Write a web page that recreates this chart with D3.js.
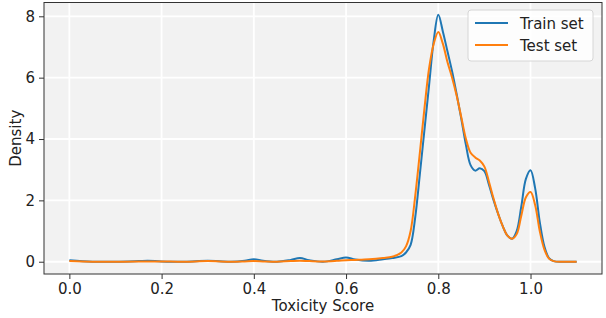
<!doctype html>
<html>
<head>
<meta charset="UTF-8">
<title>Toxicity density</title>
<style>
  body { margin: 0; background: #fff; }
  #container { font-size: 0; }
  text { font-family: "DejaVu Sans", sans-serif; fill: #222; }
</style>
</head>
<body>
<div id="container"></div>
<script src="https://cdn.jsdelivr.net/npm/d3@7"></script>
<script>
  var w = 606, h = 318;
  var margin = {top: 2.5, right: 4, bottom: 44, left: 44};

  // toxicity score sample points
  var scores = [0, 0.05, 0.1, 0.15, 0.17, 0.2, 0.25, 0.3, 0.35, 0.38, 0.4, 0.42, 0.45, 0.48, 0.5,
    0.52, 0.55, 0.58, 0.6, 0.62, 0.65, 0.68, 0.7, 0.72, 0.73, 0.74, 0.75, 0.76, 0.77, 0.78, 0.79,
    0.8, 0.81, 0.82, 0.83, 0.84, 0.85, 0.86, 0.87, 0.88, 0.89, 0.9, 0.91, 0.92, 0.93, 0.94, 0.95,
    0.96, 0.97, 0.98, 0.99, 1.0, 1.01, 1.02, 1.03, 1.04, 1.05, 1.07, 1.1];
  var trainDensity = [0.05, 0.0, 0.0, 0.02, 0.03, 0.01, 0.0, 0.03, 0.0, 0.03, 0.08, 0.03, 0.0, 0.06, 0.12,
    0.05, 0.0, 0.08, 0.14, 0.07, 0.03, 0.08, 0.12, 0.18, 0.3, 0.55, 1.45, 2.85, 4.3, 5.75, 7.2,
    8.05, 7.5, 6.85, 6.2, 5.45, 4.65, 3.8, 3.15, 2.97, 3.05, 2.95, 2.5, 2.0, 1.55, 1.15, 0.85,
    0.75, 1.0, 1.8, 2.7, 2.98, 2.4, 1.3, 0.5, 0.12, 0.02, 0.0, 0.0];
  var testDensity = [0.02, 0.0, 0.0, 0.01, 0.01, 0.01, 0.0, 0.02, 0.0, 0.01, 0.02, 0.01, 0.0, 0.02, 0.03,
    0.02, 0.01, 0.03, 0.05, 0.06, 0.08, 0.12, 0.16, 0.3, 0.5, 1.0, 2.15, 3.55, 5.0, 6.3, 7.1,
    7.49, 7.1, 6.5, 6.0, 5.4, 4.7, 4.0, 3.55, 3.4, 3.3, 3.1, 2.6, 2.05, 1.55, 1.15, 0.85,
    0.75, 0.9, 1.5, 2.1, 2.27, 1.85, 1.0, 0.4, 0.1, 0.02, 0.0, 0.0];
  var seriesNames = ["Train set", "Test set"];
  var colors = ["#1f77b4", "#ff7f0e"];
  var xTicks = [0.0, 0.2, 0.4, 0.6, 0.8, 1.0];
  var yTicks = [0, 2, 4, 6, 8];

  var xScale = d3.scaleLinear().domain([-0.055, 1.155]).range([margin.left, w - margin.right]);
  var yScale = d3.scaleLinear().domain([-0.4, 8.45]).range([h - margin.bottom, margin.top]);

  var svg = d3.select("#container").append("svg").attr("width", w).attr("height", h);

  svg.append("rect")
    .attr("x", margin.left).attr("y", margin.top)
    .attr("width", w - margin.right - margin.left)
    .attr("height", h - margin.bottom - margin.top)
    .attr("fill", "#f2f2f2");

  // grid
  svg.selectAll(".gx").data(xTicks).enter().append("line")
    .attr("x1", function (d) { return xScale(d); }).attr("x2", function (d) { return xScale(d); })
    .attr("y1", margin.top).attr("y2", h - margin.bottom)
    .attr("stroke", "#fff").attr("stroke-width", 1.8);
  svg.selectAll(".gy").data(yTicks).enter().append("line")
    .attr("y1", function (d) { return yScale(d); }).attr("y2", function (d) { return yScale(d); })
    .attr("x1", margin.left).attr("x2", w - margin.right)
    .attr("stroke", "#fff").attr("stroke-width", 1.8);

  var line = d3.line().curve(d3.curveCatmullRom.alpha(0.5));
  [trainDensity, testDensity].forEach(function (vals, i) {
    svg.append("path")
      .attr("d", line(scores.map(function (s, j) { return [xScale(s), yScale(vals[j])]; })))
      .attr("fill", "none").attr("stroke", colors[i]).attr("stroke-width", 2);
  });

  // frame
  svg.append("rect")
    .attr("x", margin.left).attr("y", margin.top)
    .attr("width", w - margin.right - margin.left)
    .attr("height", h - margin.bottom - margin.top)
    .attr("fill", "none").attr("stroke", "#333").attr("stroke-width", 1);

  var xAxis = svg.append("g").attr("transform", "translate(0," + (h - margin.bottom) + ")")
    .call(d3.axisBottom(xScale).tickValues(xTicks).tickFormat(d3.format(".1f")).tickSize(5).tickPadding(4));
  var yAxis = svg.append("g").attr("transform", "translate(" + margin.left + ",0)")
    .call(d3.axisLeft(yScale).tickValues(yTicks).tickSize(5).tickPadding(4));
  [xAxis, yAxis].forEach(function (g) {
    g.select(".domain").remove();
    g.selectAll(".tick line").attr("stroke", "#333");
    g.selectAll("text").attr("font-size", 15).attr("font-family", "DejaVu Sans").attr("fill", "#222");
  });

  svg.append("text")
    .attr("x", (margin.left + w - margin.right) / 2).attr("y", 311)
    .attr("text-anchor", "middle").attr("font-size", 15)
    .text("Toxicity Score");
  svg.append("text")
    .attr("transform", "translate(21," + ((margin.top + h - margin.bottom) / 2) + ") rotate(-90)")
    .attr("text-anchor", "middle").attr("font-size", 15)
    .text("Density");

  // legend
  var lg = svg.append("g").attr("transform", "translate(468,10)");
  lg.append("rect").attr("width", 125).attr("height", 51).attr("rx", 3)
    .attr("fill", "#fff").attr("fill-opacity", 0.8).attr("stroke", "#d6d6d6");
  seriesNames.forEach(function (name, i) {
    lg.append("line").attr("x1", 7).attr("x2", 40)
      .attr("y1", 13 + i * 22).attr("y2", 13 + i * 22)
      .attr("stroke", colors[i]).attr("stroke-width", 2);
    lg.append("text").attr("x", 52).attr("y", 18.5 + i * 22)
      .attr("font-size", 15).text(name);
  });
</script>
</body>
</html>
